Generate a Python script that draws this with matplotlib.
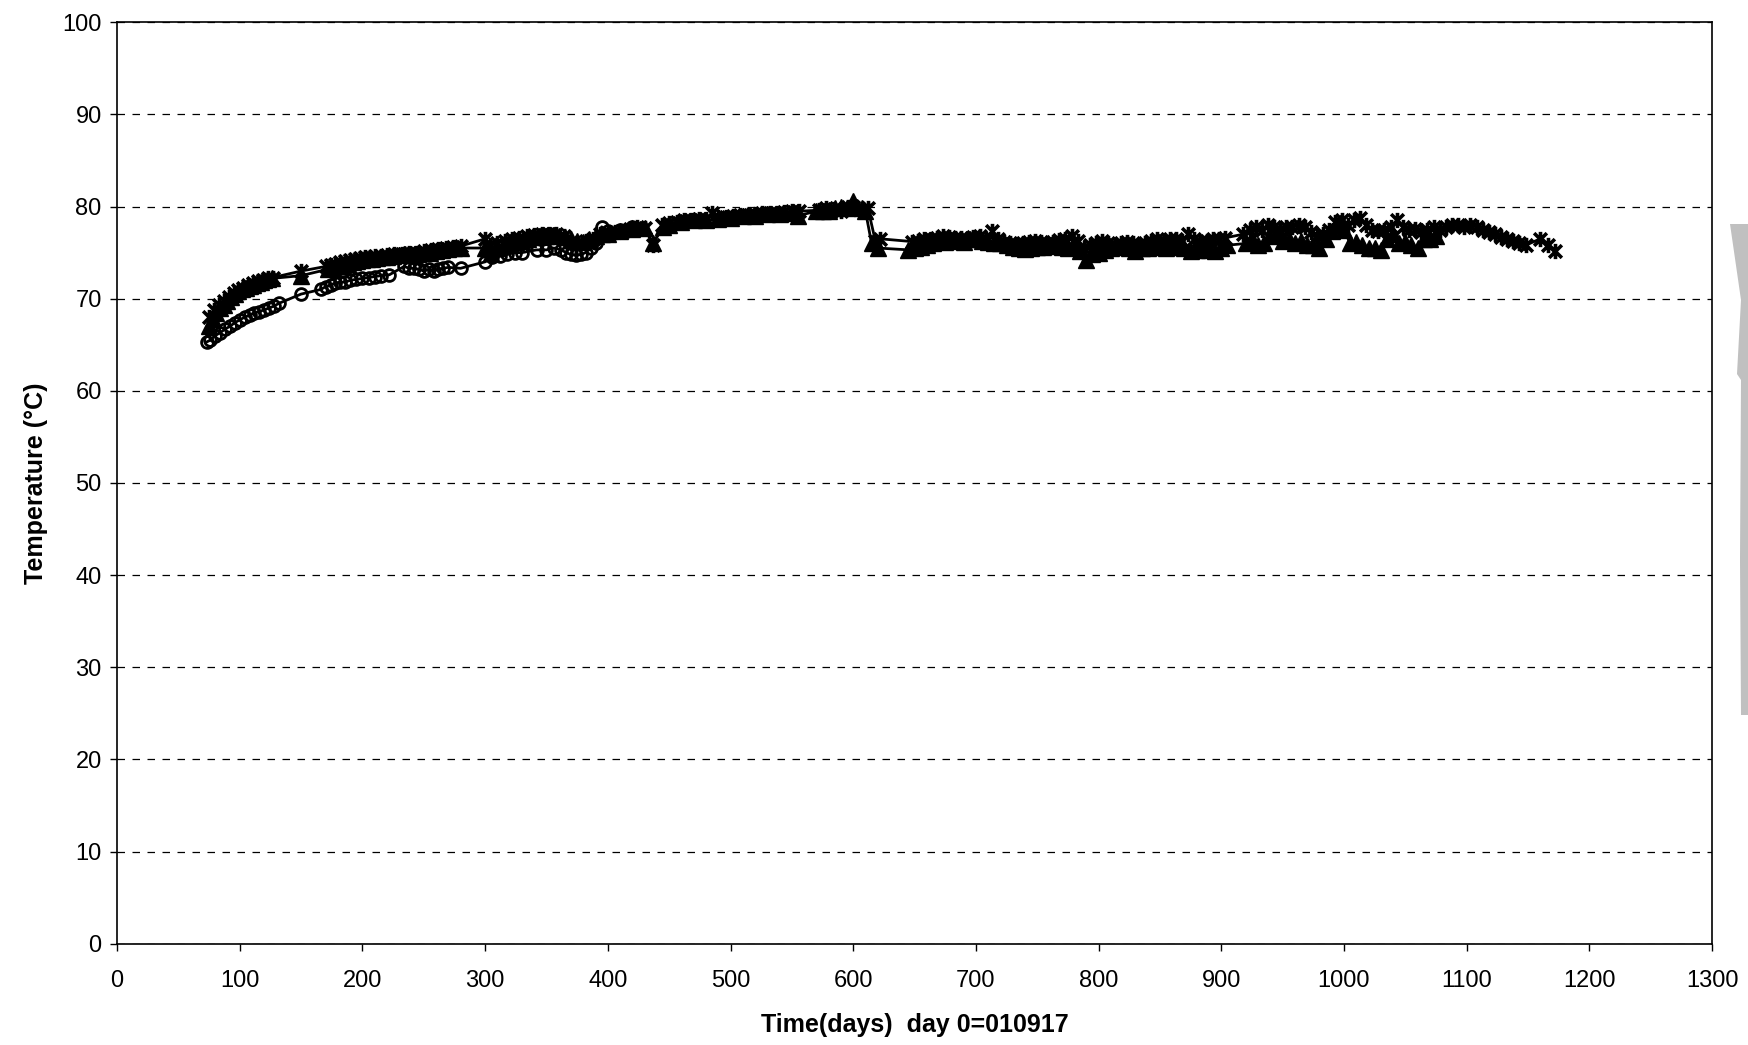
import matplotlib
matplotlib.use("Agg")
import matplotlib.pyplot as plt
from matplotlib.path import Path
from matplotlib.patches import Polygon

# --- data (days since 010917, temperature in deg C) ---
tri_days = [75, 78, 81, 84, 87, 90, 93, 96, 99, 102, 105, 108, 111, 114, 117, 120, 123, 126,
            150, 172, 176, 180, 184, 188, 192, 196, 200, 204, 208, 212, 216, 220, 225, 230,
            235, 240, 245, 250, 255, 260, 265, 270, 275, 280, 300, 305, 310, 315, 320, 325,
            330, 335, 340, 345, 350, 355, 360, 365, 370, 375, 380, 385, 390, 395, 400, 410,
            420, 430, 437, 445, 450, 460, 470, 480, 490, 500, 510, 520, 530, 540, 550, 555,
            570, 575, 580, 585, 590, 595, 600, 603, 607, 610, 615, 620, 645, 650, 655, 660,
            665, 670, 675, 680, 685, 690, 695, 700, 705, 710, 715, 720, 725, 730, 735, 740,
            745, 750, 755, 760, 765, 770, 775, 780, 785, 790, 795, 800, 805, 810, 815, 820,
            825, 830, 835, 840, 845, 850, 855, 860, 865, 870, 875, 880, 885, 890, 895, 900,
            905, 920, 925, 930, 935, 940, 945, 950, 955, 960, 965, 970, 975, 980, 985, 990,
            995, 1000, 1005, 1010, 1015, 1020, 1025, 1030, 1035, 1040, 1045, 1050, 1055,
            1060, 1065, 1070, 1075]
tri_temp = [67.0, 67.8, 68.5, 69.0, 69.3, 69.8, 70.2, 70.5, 70.8, 71.0, 71.2, 71.4, 71.5,
            71.7, 71.8, 72.0, 72.1, 72.2, 72.5, 73.2, 73.3, 73.5, 73.6, 73.8, 74.0, 74.1,
            74.2, 74.3, 74.3, 74.4, 74.5, 74.5, 74.6, 74.7, 74.8, 74.8, 74.9, 75.0, 75.0,
            75.2, 75.3, 75.4, 75.5, 75.5, 75.5, 75.0, 75.5, 75.8, 76.0, 76.2, 76.3, 76.5,
            76.7, 76.8, 76.8, 76.9, 76.8, 76.7, 76.5, 76.3, 76.2, 76.5, 76.8, 77.0, 77.0,
            77.3, 77.6, 77.7, 76.0, 77.8, 78.0, 78.3, 78.5, 78.5, 78.7, 78.8, 79.0, 79.0,
            79.2, 79.2, 79.3, 79.0, 79.5, 79.5, 79.5, 79.8, 80.0, 79.8, 80.6, 80.0, 79.8,
            79.5, 76.0, 75.5, 75.3, 75.5, 75.6, 75.8, 76.0, 76.3, 76.2, 76.4, 76.3, 76.2,
            76.5, 76.5, 76.3, 76.2, 76.0, 76.0, 75.8, 75.6, 75.5, 75.4, 75.5, 75.6, 75.6,
            75.8, 75.7, 75.6, 75.5, 75.8, 75.2, 74.2, 74.8, 75.0, 75.3, 75.5, 75.6, 75.8,
            75.5, 75.2, 75.5, 75.5, 75.6, 75.7, 75.5, 75.6, 75.8, 75.5, 75.2, 75.3, 75.5,
            75.3, 75.2, 75.5, 75.8, 76.0, 76.5, 75.8, 76.0, 76.8, 77.0, 76.3, 76.5, 76.0,
            76.3, 75.8, 75.8, 75.5, 76.5, 77.3, 78.0, 77.5, 76.0, 76.2, 75.8, 75.5, 75.5,
            75.3, 76.5, 77.0, 76.0, 76.2, 75.8, 75.5, 76.5, 76.5, 76.8]

star_days = [75, 79, 83, 87, 91, 95, 99, 103, 107, 111, 115, 119, 123, 127, 150, 170, 174,
             178, 182, 186, 190, 194, 198, 202, 206, 210, 215, 220, 226, 232, 238, 244, 250,
             256, 262, 268, 274, 280, 300, 304, 310, 316, 322, 328, 334, 340, 346, 352, 358,
             364, 370, 376, 382, 388, 394, 400, 406, 412, 418, 424, 430, 437, 444, 450, 456,
             462, 468, 474, 480, 485, 490, 496, 502, 508, 514, 520, 526, 532, 538, 544, 550,
             556, 572, 578, 584, 590, 596, 600, 604, 608, 612, 618, 622, 648, 653, 658, 663,
             668, 673, 678, 683, 688, 693, 698, 703, 708, 713, 718, 723, 728, 733, 738, 743,
             748, 753, 758, 763, 768, 773, 778, 783, 788, 793, 798, 803, 808, 813, 818, 823,
             828, 833, 838, 843, 848, 853, 858, 863, 868, 873, 878, 883, 888, 893, 898, 903,
             918, 923, 928, 933, 938, 943, 948, 953, 958, 963, 968, 973, 978, 983, 988, 993,
             998, 1003, 1008, 1013, 1018, 1023, 1028, 1033, 1038, 1043, 1048, 1053, 1058,
             1063, 1068, 1073, 1078, 1083, 1088, 1093, 1098, 1103, 1108, 1113, 1118, 1123,
             1128, 1133, 1138, 1143, 1148, 1160, 1166, 1172]
star_temp = [68.0, 68.8, 69.3, 69.8, 70.2, 70.6, 70.9, 71.2, 71.5, 71.7, 71.9, 72.0, 72.2,
             72.3, 73.0, 73.5, 73.7, 73.8, 74.0, 74.1, 74.2, 74.3, 74.4, 74.5, 74.5, 74.6,
             74.6, 74.7, 74.8, 74.9, 75.0, 75.0, 75.2, 75.3, 75.4, 75.5, 75.6, 75.7, 76.5,
             75.8, 76.0, 76.3, 76.5, 76.6, 76.8, 76.9, 77.0, 77.0, 77.0, 76.8, 76.2, 76.0,
             76.3, 76.5, 77.0, 77.0, 77.2, 77.4, 77.6, 77.8, 77.7, 75.8, 78.0, 78.2, 78.3,
             78.5, 78.5, 78.6, 78.7, 79.3, 78.9, 78.9, 79.0, 79.1, 79.1, 79.2, 79.3, 79.3,
             79.3, 79.4, 79.5, 79.5, 79.6, 79.8, 79.7, 79.5, 80.0, 80.0, 79.8, 79.7, 79.8,
             76.3, 76.5, 76.2, 76.3, 76.5, 76.5, 76.6, 76.8, 76.7, 76.6, 76.6, 76.5, 76.7,
             76.8, 76.5, 77.3, 76.5, 76.2, 76.0, 75.9, 76.0, 76.2, 76.3, 76.2, 76.0, 76.2,
             76.4, 76.5, 76.8, 76.3, 75.5, 75.8, 76.0, 76.3, 76.0, 75.8, 76.0, 76.2, 76.0,
             75.8, 76.0, 76.3, 76.5, 76.3, 76.5, 76.5, 76.3, 77.0, 76.5, 76.2, 76.3, 76.5,
             76.5, 76.6, 77.0, 77.5, 77.8, 77.5, 78.0, 77.8, 77.5, 77.8, 77.8, 78.0, 77.8,
             77.2, 76.8, 77.0, 77.5, 78.3, 78.5, 78.0, 78.5, 78.8, 78.0, 77.5, 77.3, 77.5,
             77.8, 78.5, 77.8, 77.5, 77.6, 77.2, 77.5, 77.8, 77.5, 77.8, 78.0, 78.0, 77.8,
             78.0, 77.8, 77.5, 77.2, 77.0, 76.7, 76.5, 76.3, 76.0, 75.8, 76.5, 75.8, 75.2]

circ_days = [73, 76, 80, 84, 88, 92, 96, 100, 104, 108, 112, 116, 120, 124, 128, 132, 150,
             166, 170, 174, 178, 182, 186, 190, 195, 200, 205, 210, 215, 222, 234, 238, 242,
             246, 250, 254, 258, 262, 266, 270, 280, 300, 306, 312, 318, 324, 330, 342, 350,
             356, 362, 366, 370, 374, 378, 382, 386, 390, 395, 400, 410, 420]
circ_temp = [65.3, 65.5, 66.0, 66.3, 66.7, 67.0, 67.4, 67.7, 68.0, 68.2, 68.5, 68.6, 68.8,
             69.0, 69.2, 69.5, 70.5, 71.0, 71.3, 71.5, 71.7, 71.8, 71.8, 72.0, 72.1, 72.2,
             72.3, 72.4, 72.5, 72.6, 73.5, 73.3, 73.3, 73.2, 73.0, 73.2, 73.0, 73.2, 73.3,
             73.4, 73.3, 74.0, 74.5, 74.6, 74.8, 75.0, 75.0, 75.3, 75.3, 75.5, 75.3, 75.0,
             74.8, 74.7, 74.8, 75.0, 75.5, 76.0, 77.8, 77.3, 77.5, 77.8]

y_ticks = list(range(0, 101, 10))
x_ticks = list(range(0, 1301, 100))

plt.rcParams['font.family'] = ['Liberation Sans', 'DejaVu Sans']

# excel style asterisk: an X with a vertical bar through it
star_marker = Path([(-1, -1), (1, 1), (-1, 1), (1, -1), (0, -1.2), (0, 1.2)],
                   [Path.MOVETO, Path.LINETO, Path.MOVETO, Path.LINETO, Path.MOVETO, Path.LINETO])

fig = plt.figure(figsize=(17.49, 10.45), dpi=100, facecolor='w')
ax = fig.add_axes([0.0669, 0.0969, 0.9120, 0.8818])

ax.plot(circ_days, circ_temp, '-', color='black', linewidth=2.0, marker='o',
        markersize=8.5, markerfacecolor='none', markeredgewidth=2.0, zorder=3)
ax.plot(tri_days, tri_temp, '-', color='black', linewidth=2.0, marker='^',
        markersize=11, zorder=4)
ax.plot(star_days, star_temp, '-', color='black', linewidth=2.0, marker=star_marker,
        markersize=11, markeredgewidth=2.6, zorder=5)

ax.set_xlim(0, 1300)
ax.set_ylim(0, 100)
ax.set_xticks(x_ticks)
ax.set_yticks(y_ticks)
ax.yaxis.grid(True, linestyle=(0, (6, 6)), color='black', linewidth=0.9)
ax.set_axisbelow(True)
for s in ax.spines.values():
    s.set_linewidth(1.2)
ax.tick_params(axis='both', direction='out', length=5, width=1.0, labelsize=17)
ax.tick_params(axis='y', pad=6)
ax.tick_params(axis='x', pad=14)

ax.set_xlabel('Time(days)  day 0=010917', fontsize=18, fontweight='bold', labelpad=15)
ax.set_ylabel('Temperature (°C)', fontsize=18, fontweight='bold', labelpad=10)

# grey leftover of a clipped legend shadow at the right edge (pixel coords, y flipped)
H = 1045
shadow = [(1730, 224), (1749, 224), (1749, 715), (1741, 715), (1740, 560),
          (1741, 380), (1737, 374), (1741, 300)]
fig.patches.append(Polygon([(x, H - y) for x, y in shadow], closed=True, transform=None,
                           facecolor='#c0c0c0', edgecolor='none'))

fig.savefig('out.png', dpi=100, facecolor='w')
